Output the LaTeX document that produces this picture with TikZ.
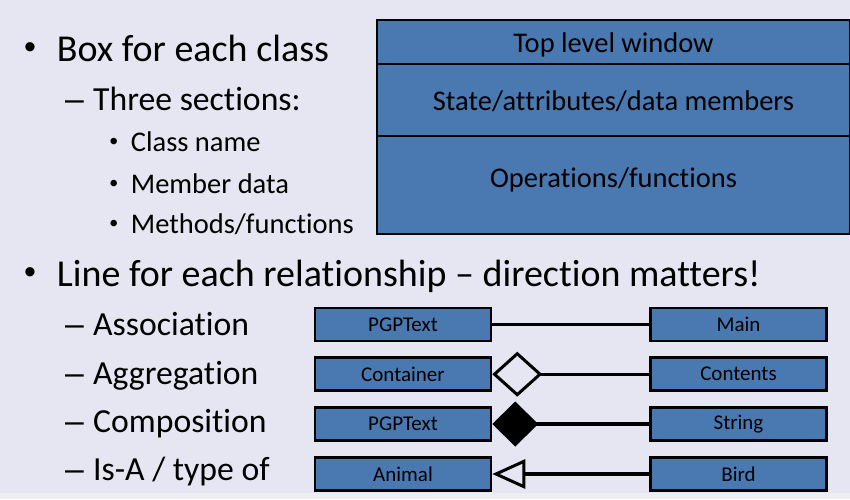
\documentclass[tikz,border=0pt]{standalone}
\usepackage{fontspec}
\setmainfont{Carlito}[Ligatures={NoCommon}]
\newfontfamily\arialf{Liberation Sans}
\newcommand\tixx{t\kern0pt i}
\usetikzlibrary{arrows.meta}
\definecolor{bgc}{HTML}{E6E6F2}
\definecolor{bgl}{HTML}{EDEDF4}
\definecolor{boxc}{HTML}{4A78B0}
\tikzset{
  lvlone/.style={anchor=base west,inner sep=0pt,font=\fontsize{38}{44}\selectfont},
  lvltwo/.style={anchor=base west,inner sep=0pt,font=\fontsize{33.7}{40}\selectfont},
  lvlthree/.style={anchor=base west,inner sep=0pt,font=\fontsize{28.5}{34}\selectfont},
  bigsec/.style={draw=black,line width=2pt,fill=boxc,anchor=north west,inner sep=0pt,
     minimum width=473pt,font=\fontsize{28.5}{34}\selectfont},
  cls/.style={draw=black,line width=2.5pt,fill=boxc,inner sep=0pt,minimum width=176pt,
     minimum height=33pt,font=\fontsize{21}{25}\selectfont},
  rel/.style={line width=3.2pt},
}
\begin{document}
\begin{tikzpicture}[x=1pt,y=-1pt]
\fill[bgc] (0,0) rectangle (850,499);
\fill[bgl] (0,493) rectangle (850,499);
\useasboundingbox (0,0) rectangle (850,499);

% left text
\node[lvlone,font=\arialf\fontsize{34}{40}\selectfont] (b1) at (24,58) {•};
\node[lvlone] (t1) at (56.7,61) {Box for each class};
\node[lvltwo,font=\arialf\fontsize{33.7}{40}\selectfont] (d1) at (65,110) {–};
\node[lvltwo] (t2) at (93,110) {Three sec\tixx ons:};
\node[lvlthree,font=\arialf\fontsize{24}{30}\selectfont] (b2) at (109.5,149.7) {•};
\node[lvlthree] (t3) at (130.7,151.7) {Class name};
\node[lvlthree,font=\arialf\fontsize{24}{30}\selectfont] (b3) at (109.5,191.3) {•};
\node[lvlthree] (t4) at (130.7,193.3) {Member data};
\node[lvlthree,font=\arialf\fontsize{24}{30}\selectfont] (b4) at (109.5,231.3) {•};
\node[lvlthree] (t5) at (130.7,233.3) {Methods/func\tixx ons};
\node[lvlone,font=\arialf\fontsize{34}{40}\selectfont] (b5) at (24,283.7) {•};
\node[lvlone] (t6) at (56.7,286.7) {Line for each rela\tixx onship – direc\tixx on matters!};
\node[lvltwo,font=\arialf\fontsize{33.7}{40}\selectfont] (d2) at (65,335.7) {–};
\node[lvltwo] (t7) at (93,335.7) {Associa\tixx on};
\node[lvltwo,font=\arialf\fontsize{33.7}{40}\selectfont] (d3) at (65,384) {–};
\node[lvltwo] (t8) at (93,384) {Aggrega\tixx on};
\node[lvltwo,font=\arialf\fontsize{33.7}{40}\selectfont] (d4) at (65,432.7) {–};
\node[lvltwo] (t9) at (93,432.7) {Composi\tixx on};
\node[lvltwo,font=\arialf\fontsize{33.7}{40}\selectfont] (d5) at (65,480) {–};
\node[lvltwo] (t10) at (93,480) {Is-A / type of};

% class box
\node[bigsec,minimum height=44pt,text height=28pt,text depth=6.6pt] (top) at (376,19) {Top level window};
\node[bigsec,minimum height=72pt,text height=28pt,text depth=7.4pt] (mid) at (376,63) {State/at\kern0pt tributes/data members};
\node[bigsec,minimum height=98pt,text height=28pt,text depth=22.6pt] (bot) at (376,135) {Opera\tixx ons/func\tixx ons};

% relationship boxes
\node[cls] (a1) at (403,324.5) {PGPText};
\node[cls] (a2) at (738.5,324.5) {Main};
\node[cls] (g1) at (403,374.2) {Container};
\node[cls] (g2) at (738.5,374.2) {Contents};
\node[cls] (c1) at (403,424) {PGPText};
\node[cls] (c2) at (738.5,424) {String};
\node[cls] (i1) at (403,474) {Animal};
\node[cls] (i2) at (738.5,474) {Bird};

\draw[rel] (a1.east) -- (a2.west);
\draw[rel,-{Diamond[open,length=50pt,width=45pt,line width=3pt]}] (g2.west) -- (g1.east);
\draw[rel,-{Diamond[length=46pt,width=45pt]}] (c2.west) -- (c1.east);
\draw[rel,-{Triangle[open,length=33pt,width=29pt,line width=3pt]}] (i2.west) -- (i1.east);
\end{tikzpicture}
\end{document}
